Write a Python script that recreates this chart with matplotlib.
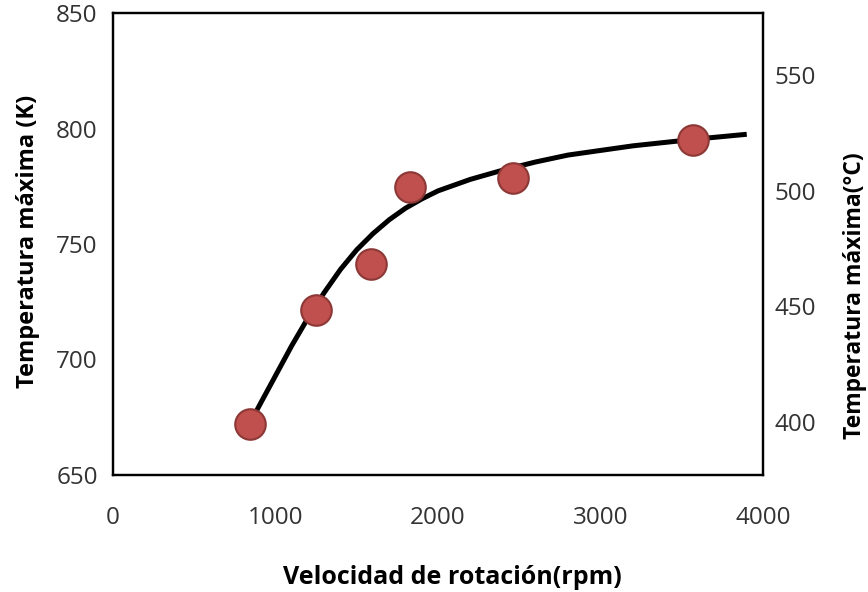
import matplotlib
matplotlib.use("Agg")
import matplotlib.pyplot as plt

plt.rcParams['font.family'] = ['Open Sans', 'DejaVu Sans']

# measured points
rpm = [840, 1250, 1590, 1830, 2460, 3570]
temp_k = [672, 721.5, 741.5, 774.5, 778.5, 795]

# trend line
curve_rpm = [840, 900, 1000, 1100, 1200, 1300, 1400, 1500, 1600, 1700, 1800, 1900,
             2000, 2200, 2400, 2600, 2800, 3000, 3200, 3400, 3600, 3900]
curve_k = [672, 680, 693, 706, 718, 729, 739, 747.5, 754.5, 760.5, 765.5, 769.5,
           773, 778, 782, 785.5, 788.5, 790.5, 792.5, 794, 795.5, 797.5]

k_ticks = [650, 700, 750, 800, 850]
c_ticks = [400, 450, 500, 550]
x_ticks = [0, 1000, 2000, 3000, 4000]

fig = plt.figure(figsize=(8.68, 5.92), dpi=100)
ax = fig.add_axes([113/868, 1 - 475/592, 650/868, 462/592])

ax.plot(curve_rpm, curve_k, color='black', lw=3.6, solid_capstyle='butt',
        solid_joinstyle='round', zorder=2)
ax.plot(rpm, temp_k, 'o', ms=22, mfc='#C0504D', mec='#8C3836', mew=1.5, zorder=3)

ax.set_xlim(0, 4000)
ax.set_ylim(650, 850)
ax.set_xticks(x_ticks)
ax.set_yticks(k_ticks)
ax.tick_params(length=0, labelsize=17.5, colors='#333333')
ax.tick_params(axis='x', pad=22)
ax.tick_params(axis='y', pad=11)

# right axis in Celsius
ax2 = ax.twinx()
ax2.set_ylim(650 - 273.15, 850 - 273.15)
ax2.set_yticks(c_ticks)
ax2.tick_params(length=0, labelsize=17.5, colors='#333333', pad=8)

for a in (ax, ax2):
    for s in a.spines.values():
        s.set_linewidth(1.6)
        s.set_color('black')

fig.text(452/868, 1 - 577/592, 'Velocidad de rotación(rpm)', ha='center', va='center',
         fontsize=18, fontweight='bold')
fig.text(28/868, 1 - 241/592, 'Temperatura máxima (K)', ha='center', va='center',
         rotation=90, fontsize=17, fontweight='bold')
fig.text(855/868, 1 - 296/592, 'Temperatura máxima(°C)', ha='center', va='center',
         rotation=90, fontsize=16.5, fontweight='bold')

fig.savefig('out.png', dpi=100)
